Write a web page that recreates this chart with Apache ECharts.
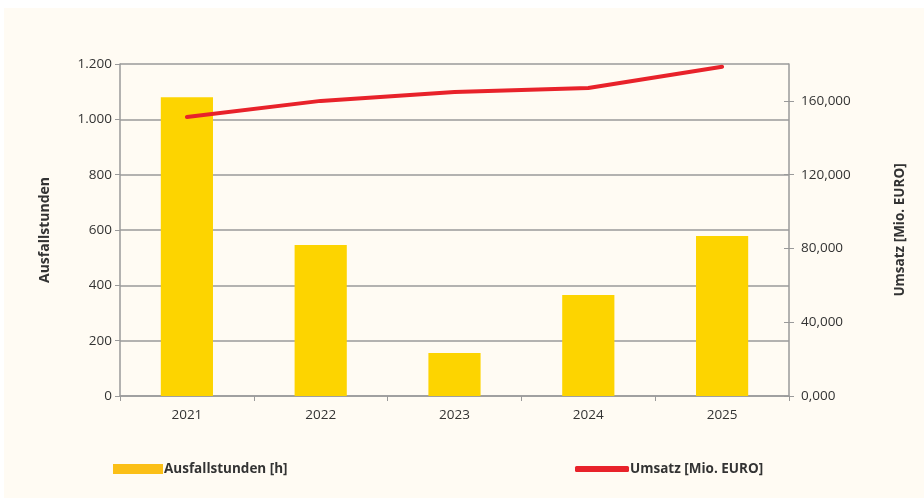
<!DOCTYPE html>
<html>
<head>
<meta charset="utf-8">
<script src="https://cdn.jsdelivr.net/npm/echarts@6/dist/echarts.min.js"></script>
<style>
	html, body { margin: 0; padding: 0; background: #ffffff; }
	.panel { position: absolute; left: 4px; top: 8px; width: 920px; height: 490px; background: #fffbf3; }
	#chart { position: absolute; left: 0; top: 0; width: 924px; height: 498px; }
</style>
</head>
<body>
<div class="panel"></div>
<div id="chart"></div>
<script>
	var years = ['2021', '2022', '2023', '2024', '2025'];
	var ausfallstunden = [1080, 546, 155, 365, 578];
	var umsatz = [151300, 160000, 164800, 167000, 178500];
	var umsatzTicks = [0, 40000, 80000, 120000, 160000];

	var textColor = '#333333';
	var lineGray = '#9a9a9a';
	var font = 'Open Sans';
	var legendText = { fontFamily: font, fontSize: 13.5, fontWeight: 'bold', color: textColor, padding: [0, 0, 0, -4] };

	var chart = echarts.init(document.getElementById('chart'));
	var option = {
		backgroundColor: 'transparent',
		animation: false,
		textStyle: { fontFamily: font },
		grid: { left: 120, right: 135, top: 64, bottom: 102 },
		legend: [{
				bottom: 22,
				left: 113,
				padding: 0,
				itemWidth: 50,
				itemHeight: 10,
				textStyle: legendText,
				data: [{ name: 'Ausfallstunden [h]', icon: 'rect', itemStyle: { color: '#fbbf16' } }]
			},
			{
				bottom: 22,
				left: 575,
				padding: 0,
				itemWidth: 54,
				itemHeight: 6,
				textStyle: legendText,
				data: [{ name: 'Umsatz [Mio. EURO]', icon: 'roundRect' }]
			}
		],
		xAxis: {
			type: 'category',
			data: years,
			boundaryGap: true,
			axisLine: { lineStyle: { color: lineGray, width: 1.5 } },
			axisTick: { show: true, length: 5, lineStyle: { color: lineGray } },
			axisLabel: { color: textColor, fontSize: 13.5, margin: 12 },
			splitLine: { show: false }
		},
		yAxis: [{
				type: 'value',
				min: 0,
				max: 1200,
				interval: 200,
				name: 'Ausfallstunden',
				nameLocation: 'middle',
				nameRotate: 90,
				nameGap: 68,
				nameTextStyle: { fontFamily: font, fontSize: 14, fontWeight: 'bold', color: textColor },
				axisLine: { show: true, lineStyle: { color: lineGray, width: 1.5 } },
				axisTick: { show: true, length: 5, lineStyle: { color: lineGray } },
				axisLabel: {
					color: textColor,
					fontSize: 13.5,
					margin: 8,
					formatter: function(v) {
						return String(v).replace(/\B(?=(\d{3})+(?!\d))/g, '.');
					}
				},
				splitLine: { show: true, lineStyle: { color: lineGray, width: 1.5 } }
			},
			{
				type: 'value',
				position: 'right',
				min: 0,
				max: 180000,
				name: 'Umsatz [Mio. EURO]',
				nameLocation: 'middle',
				nameRotate: 90,
				nameGap: 104,
				nameTextStyle: { fontFamily: font, fontSize: 13.5, fontWeight: 'bold', color: textColor },
				axisLine: { show: true, lineStyle: { color: lineGray, width: 1.5 } },
				axisTick: { show: true, length: 5, customValues: umsatzTicks, lineStyle: { color: lineGray } },
				axisLabel: {
					color: textColor,
					fontSize: 13.5,
					margin: 12,
					customValues: umsatzTicks,
					formatter: function(v) {
						return (v / 1000).toFixed(3).replace('.', ',');
					}
				},
				splitLine: { show: false }
			},
			{
				type: 'value',
				position: 'right',
				min: 0,
				max: 180000,
				axisLine: { show: false },
				axisTick: { show: true, inside: true, length: 5, customValues: umsatzTicks, lineStyle: { color: lineGray } },
				axisLabel: { show: false },
				splitLine: { show: false }
			}
		],
		series: [{
				name: 'Ausfallstunden [h]',
				type: 'bar',
				data: ausfallstunden,
				barWidth: '39%',
				itemStyle: { color: '#fdd400' }
			},
			{
				name: 'Umsatz [Mio. EURO]',
				type: 'line',
				yAxisIndex: 1,
				data: umsatz,
				symbol: 'none',
				lineStyle: { color: '#e8222a', width: 4, cap: 'round', join: 'round' },
				itemStyle: { color: '#e8222a' }
			}
		]
	};
	chart.setOption(option);
</script>
</body>
</html>
